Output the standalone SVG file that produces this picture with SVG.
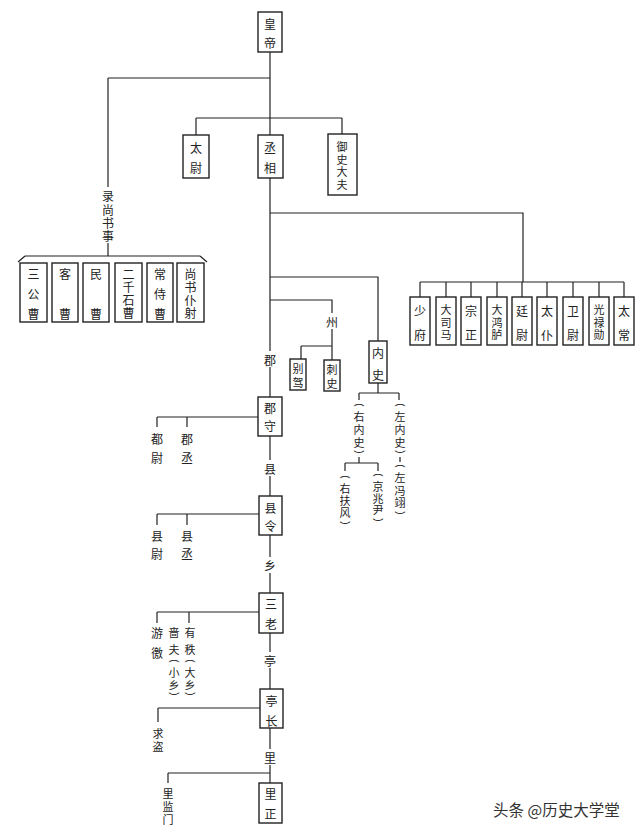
<svg xmlns="http://www.w3.org/2000/svg" width="640" height="832" viewBox="0 0 640 832">
<style>
.box{fill:#fff;stroke:#222;stroke-width:1.4}
.t{font-family:"Noto Sans CJK SC","Noto Sans CJK JP",sans-serif;font-size:12px;fill:#222;text-anchor:middle;dominant-baseline:central}
.s{font-size:11px}
.p{font-family:"Liberation Sans",sans-serif;font-size:10px;fill:#222;text-anchor:middle;dominant-baseline:central}
.ln{stroke:#222;stroke-width:1.2;fill:none}
.wm{font-family:"Noto Sans CJK SC",sans-serif;font-size:15.5px;fill:#333}
</style>
<rect width="640" height="832" fill="#fff"/>
<g id="connectors" class="ln">
<path d="M270 52V135M270 178V351M270 367V397M270 436V460M270 476V496M270 535V557M270 573V593M270 633V652M270 668V689M270 728V749M270 765V783"/>
<path d="M108 78H270M108 78V187M108 243V256M25 256H200M25 256L18 262M200 256L207 262"/>
<path d="M196 118H342M196 118V135M342 118V134"/>
<path d="M270 213H523V282M420 282H624M420 282V297M446 282V297M471 282V297M497 282V297M522 282V297M547 282V297M573 282V297M599 282V297M624 282V297"/>
<path d="M270 277H378V341M270 300H332V313M332 329V360M301 346H332M301 346V359"/>
<path d="M378 383V393M359 393H399M359 393V400M399 393V400M400 457V462M359 457V463M345 463H378M345 463V471M378 463V471"/>
<path d="M157 417H258M157 417V427M187 417V427M157 514H259M157 514V525M187 514V525M157 612H259M157 612V623M189 612V623M158 708H260M158 708V722M168 773H270M168 773V783"/>
</g>
<g id="huangdi"><rect class="box" x="258" y="12" width="24" height="40"/><text class="t" x="270" y="23">皇</text><text class="t" x="270" y="42">帝</text></g>
<g id="taiwei"><rect class="box" x="183" y="135" width="26" height="43"/><text class="t" x="196" y="147">太</text><text class="t" x="196" y="167">尉</text></g>
<g id="chengxiang"><rect class="box" x="258" y="135" width="25" height="43"/><text class="t" x="270" y="147">丞</text><text class="t" x="270" y="167">相</text></g>
<g id="yushidafu"><rect class="box" x="328" y="134" width="29" height="61"/><text class="t s" x="342" y="146">御</text><text class="t s" x="342" y="158.5">史</text><text class="t s" x="342" y="171">大</text><text class="t s" x="342" y="183.5">夫</text></g>
<g id="lushangshushi"><text class="t" x="108" y="195">录</text><text class="t" x="108" y="209">尚</text><text class="t" x="108" y="222">书</text><text class="t" x="108" y="235">事</text></g>
<g id="sangongcao"><rect class="box" x="20" y="263" width="27" height="59"/><text class="t" x="33.5" y="273">三</text><text class="t" x="33.5" y="293">公</text><text class="t" x="33.5" y="313">曹</text></g>
<g id="kecao"><rect class="box" x="52" y="263" width="26" height="59"/><text class="t" x="65" y="273">客</text><text class="t" x="65" y="313">曹</text></g>
<g id="mincao"><rect class="box" x="83" y="263" width="26" height="59"/><text class="t" x="96" y="273">民</text><text class="t" x="96" y="313">曹</text></g>
<g id="erqianshicao"><rect class="box" x="115" y="263" width="27" height="59"/><text class="t" x="128.5" y="273">二</text><text class="t" x="128.5" y="286">千</text><text class="t" x="128.5" y="299">石</text><text class="t" x="128.5" y="312">曹</text></g>
<g id="changshicao"><rect class="box" x="147" y="263" width="26" height="59"/><text class="t" x="160" y="273">常</text><text class="t" x="160" y="293">侍</text><text class="t" x="160" y="313">曹</text></g>
<g id="shangshupuye"><rect class="box" x="177" y="263" width="27" height="59"/><text class="t" x="190.5" y="273">尚</text><text class="t" x="190.5" y="286">书</text><text class="t" x="190.5" y="299">仆</text><text class="t" x="190.5" y="312">射</text></g>
<g id="shaofu"><rect class="box" x="410" y="297" width="20" height="48"/><text class="t" x="420" y="310">少</text><text class="t" x="420" y="334">府</text></g>
<g id="dasima"><rect class="box" x="436" y="297" width="20" height="48"/><text class="t s" x="446" y="309">大</text><text class="t s" x="446" y="321.5">司</text><text class="t s" x="446" y="334">马</text></g>
<g id="zongzheng"><rect class="box" x="461" y="297" width="20" height="48"/><text class="t" x="471" y="310">宗</text><text class="t" x="471" y="334">正</text></g>
<g id="dahonglu"><rect class="box" x="487" y="297" width="20" height="48"/><text class="t s" x="497" y="309">大</text><text class="t s" x="497" y="321.5">鸿</text><text class="t s" x="497" y="334">胪</text></g>
<g id="tingwei"><rect class="box" x="512" y="297" width="20" height="48"/><text class="t" x="522" y="310">廷</text><text class="t" x="522" y="334">尉</text></g>
<g id="taipu"><rect class="box" x="537" y="297" width="20" height="48"/><text class="t" x="547" y="310">太</text><text class="t" x="547" y="334">仆</text></g>
<g id="weiwei"><rect class="box" x="563" y="297" width="20" height="48"/><text class="t" x="573" y="310">卫</text><text class="t" x="573" y="334">尉</text></g>
<g id="guangluxun"><rect class="box" x="589" y="297" width="20" height="48"/><text class="t s" x="599" y="309">光</text><text class="t s" x="599" y="321.5">禄</text><text class="t s" x="599" y="334">勋</text></g>
<g id="taichang"><rect class="box" x="614" y="297" width="20" height="48"/><text class="t" x="624" y="310">太</text><text class="t" x="624" y="334">常</text></g>
<g id="zhou"><text class="t" x="332" y="321">州</text></g>
<g id="biejia"><rect class="box" x="290" y="359" width="16" height="31"/><text class="t s" x="298" y="368">别</text><text class="t s" x="298" y="382">驾</text></g>
<g id="cishi"><rect class="box" x="324" y="360" width="16" height="31"/><text class="t s" x="332" y="369">刺</text><text class="t s" x="332" y="383">史</text></g>
<g id="neishi"><rect class="box" x="369" y="341" width="18" height="42"/><text class="t" x="378" y="352">内</text><text class="t" x="378" y="374">史</text></g>
<g id="youneishi"><text class="p" x="359" y="405" transform="rotate(90 359 405)">(</text><text class="t s" x="359" y="416">右</text><text class="t s" x="359" y="429">内</text><text class="t s" x="359" y="442">史</text><text class="p" x="359" y="452" transform="rotate(90 359 452)">)</text></g>
<g id="zuoneishi"><text class="p" x="400" y="405" transform="rotate(90 400 405)">(</text><text class="t s" x="400" y="416">左</text><text class="t s" x="400" y="429">内</text><text class="t s" x="400" y="442">史</text><text class="p" x="400" y="452" transform="rotate(90 400 452)">)</text></g>
<g id="zuopingyi"><text class="p" x="400" y="466" transform="rotate(90 400 466)">(</text><text class="t s" x="400" y="477">左</text><text class="t s" x="400" y="489.5">冯</text><text class="t s" x="400" y="502">翊</text><text class="p" x="400" y="513" transform="rotate(90 400 513)">)</text></g>
<g id="youfufeng"><text class="p" x="345" y="477" transform="rotate(90 345 477)">(</text><text class="t s" x="345" y="488">右</text><text class="t s" x="345" y="500">扶</text><text class="t s" x="345" y="512">风</text><text class="p" x="345" y="523" transform="rotate(90 345 523)">)</text></g>
<g id="jingzhaoyin"><text class="p" x="378" y="475" transform="rotate(90 378 475)">(</text><text class="t s" x="378" y="486">京</text><text class="t s" x="378" y="497.5">兆</text><text class="t s" x="378" y="509">尹</text><text class="p" x="378" y="520" transform="rotate(90 378 520)">)</text></g>
<g id="jun"><text class="t" x="270" y="359">郡</text></g>
<g id="junshou"><rect class="box" x="258" y="397" width="24" height="39"/><text class="t" x="270" y="407">郡</text><text class="t" x="270" y="425">守</text></g>
<g id="duwei"><text class="t" x="157" y="438">都</text><text class="t" x="157" y="457">尉</text></g>
<g id="juncheng"><text class="t" x="187" y="438">郡</text><text class="t" x="187" y="457">丞</text></g>
<g id="xian"><text class="t" x="270" y="468">县</text></g>
<g id="xianling"><rect class="box" x="259" y="496" width="23" height="39"/><text class="t" x="270.5" y="507">县</text><text class="t" x="270.5" y="525">令</text></g>
<g id="xianwei"><text class="t" x="157" y="535">县</text><text class="t" x="157" y="553">尉</text></g>
<g id="xiancheng"><text class="t" x="187" y="535">县</text><text class="t" x="187" y="553">丞</text></g>
<g id="xiang"><text class="t" x="270" y="565">乡</text></g>
<g id="sanlao"><rect class="box" x="259" y="593" width="24" height="40"/><text class="t" x="271" y="603">三</text><text class="t" x="271" y="623">老</text></g>
<g id="youjiao"><text class="t" x="157" y="632">游</text><text class="t" x="157" y="652">徼</text></g>
<g id="sefu"><text class="t s" x="174" y="632">啬</text><text class="t s" x="174" y="649">夫</text><text class="p" x="174" y="661" transform="rotate(90 174 661)">(</text><text class="t s" x="174" y="672">小</text><text class="t s" x="174" y="684">乡</text><text class="p" x="174" y="694" transform="rotate(90 174 694)">)</text></g>
<g id="youzhi"><text class="t s" x="190" y="632">有</text><text class="t s" x="190" y="649">秩</text><text class="p" x="190" y="661" transform="rotate(90 190 661)">(</text><text class="t s" x="190" y="672">大</text><text class="t s" x="190" y="684">乡</text><text class="p" x="190" y="694" transform="rotate(90 190 694)">)</text></g>
<g id="ting"><text class="t" x="270" y="660">亭</text></g>
<g id="tingzhang"><rect class="box" x="260" y="689" width="23" height="39"/><text class="t" x="271.5" y="700">亭</text><text class="t" x="271.5" y="720">长</text></g>
<g id="qiudao"><text class="t s" x="158" y="733">求</text><text class="t s" x="158" y="746">盗</text></g>
<g id="li"><text class="t" x="270" y="757">里</text></g>
<g id="lizheng"><rect class="box" x="259" y="783" width="23" height="40"/><text class="t" x="270.5" y="793">里</text><text class="t" x="270.5" y="813">正</text></g>
<g id="lijianmen"><text class="t s" x="168" y="793">里</text><text class="t s" x="168" y="806">监</text><text class="t s" x="168" y="819">门</text></g>
<g id="watermark"><text class="wm" x="493" y="816">头条 @历史大学堂</text></g>
</svg>
